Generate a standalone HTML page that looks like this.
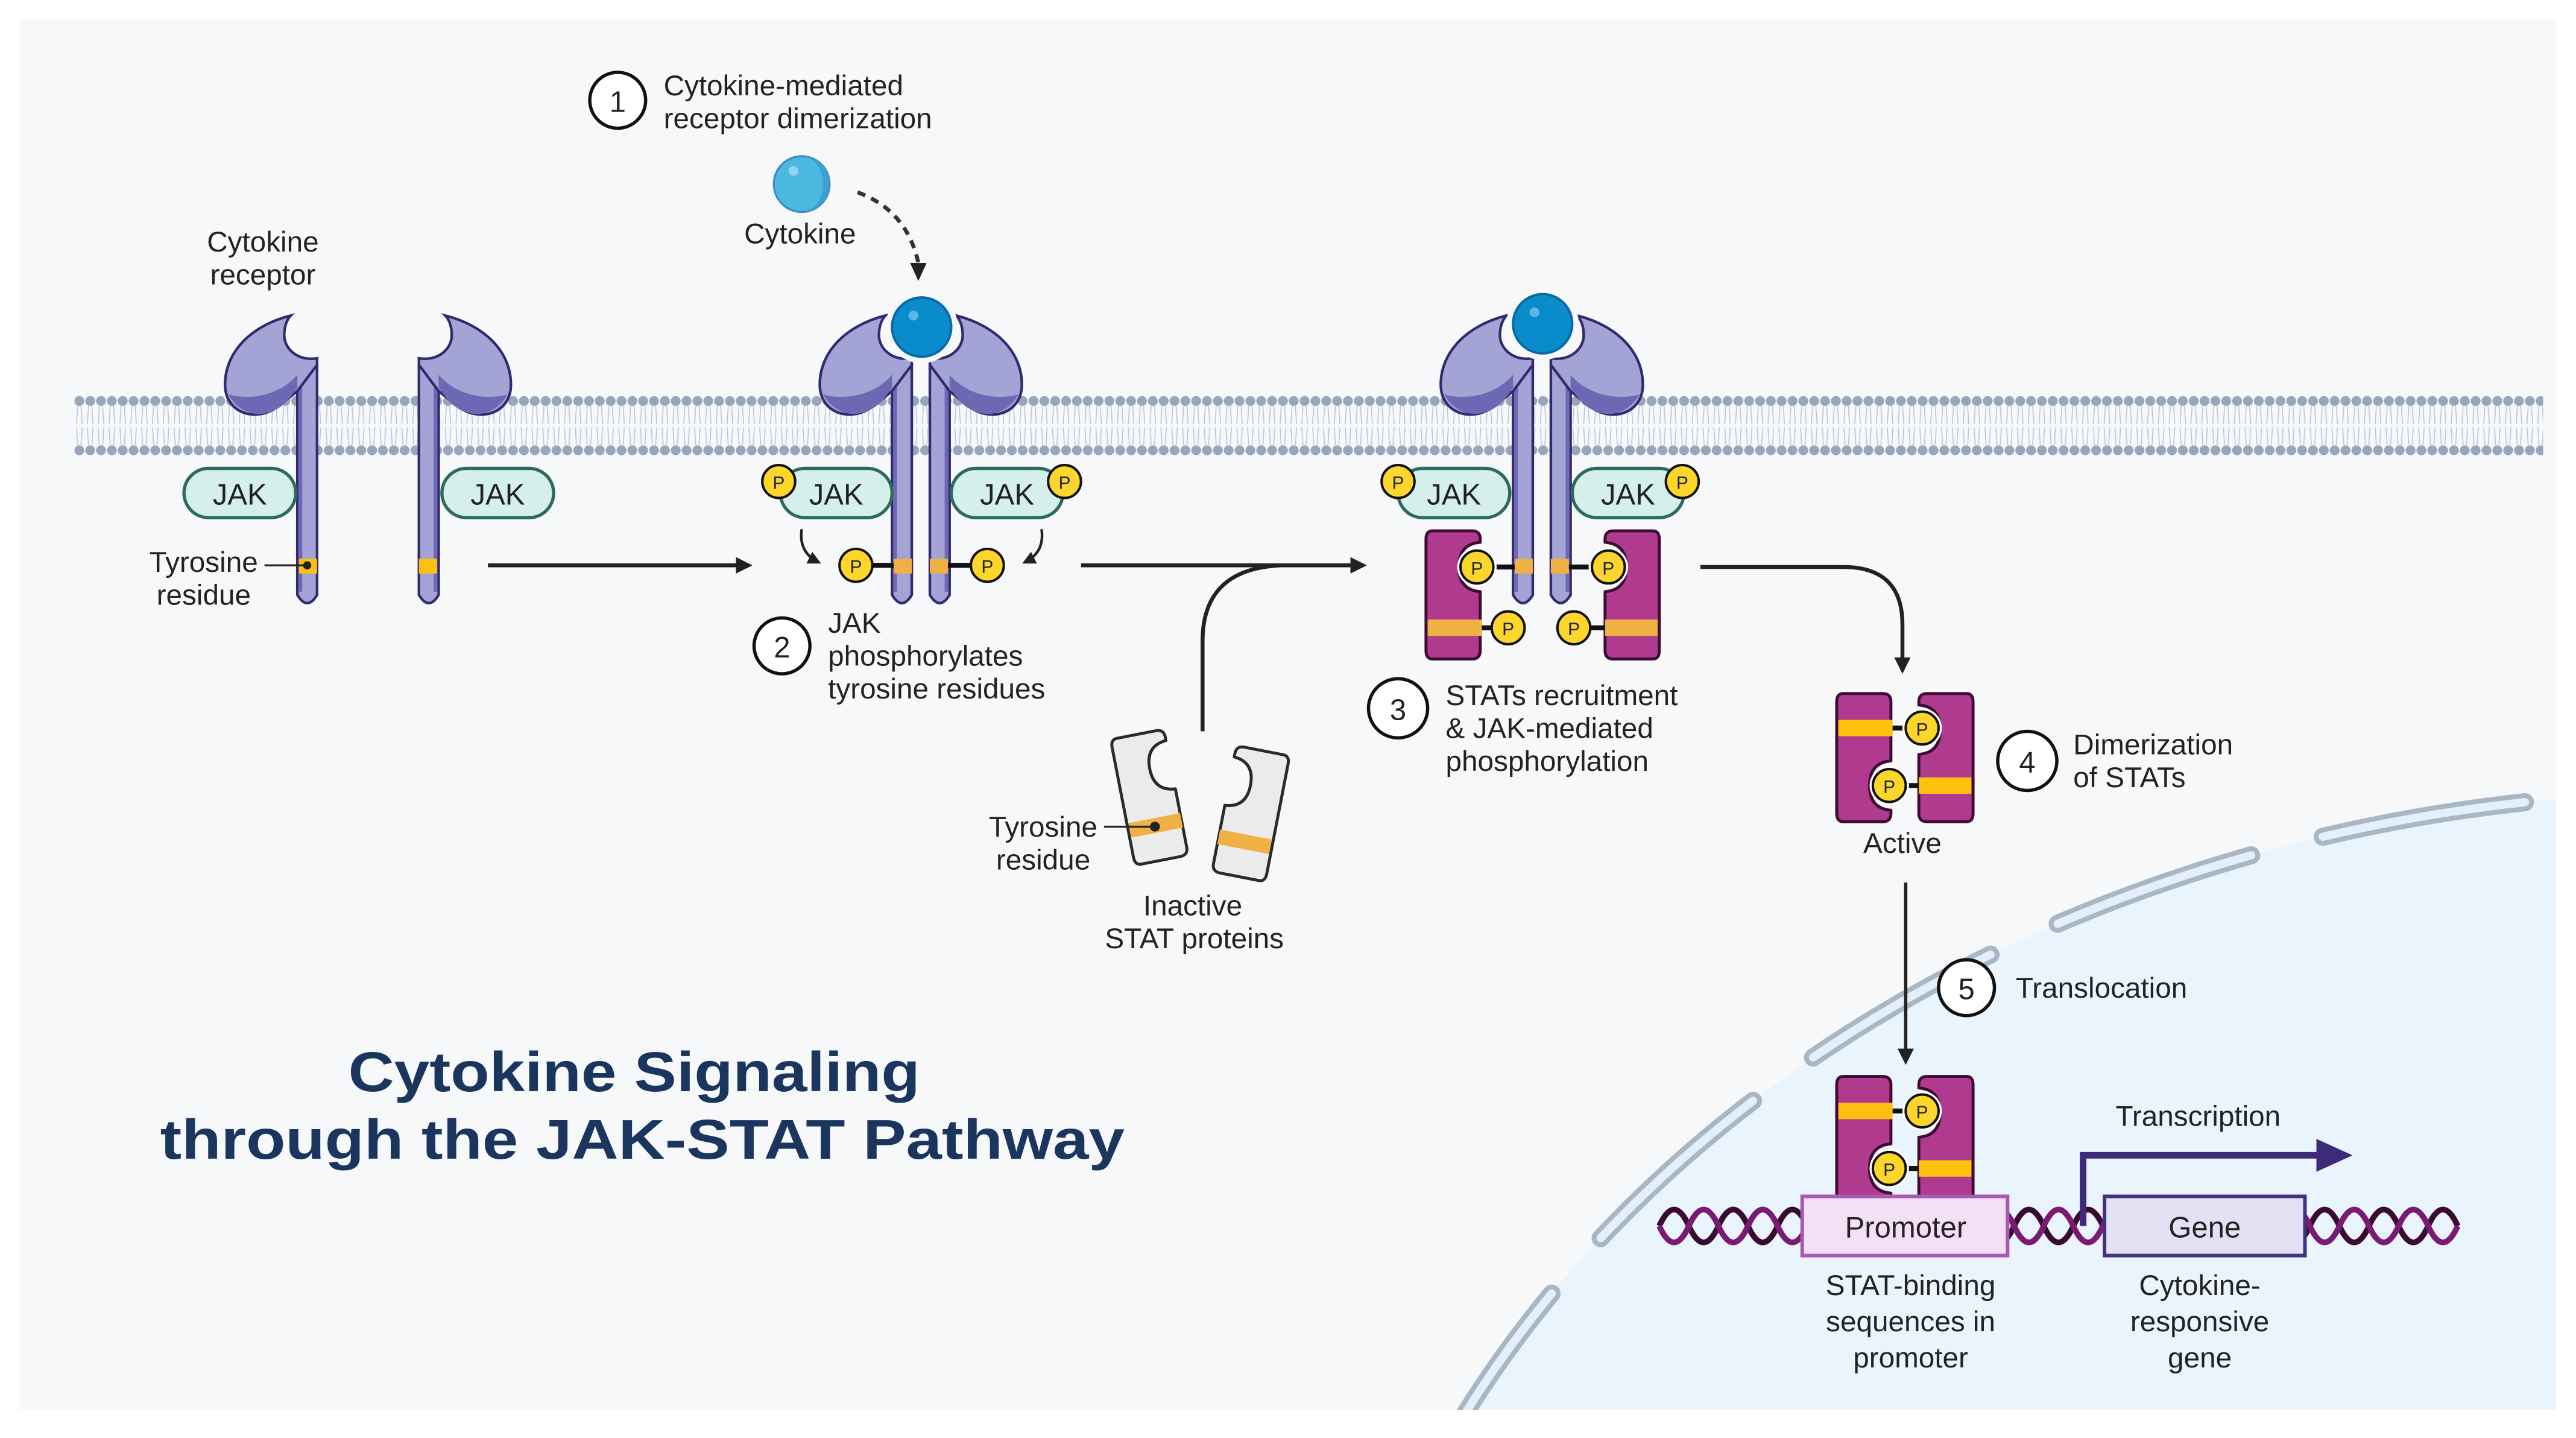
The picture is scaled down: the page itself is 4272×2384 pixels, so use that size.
<!DOCTYPE html>
<html><head><meta charset="utf-8"><style>
html,body{margin:0;padding:0;background:#fff;width:4272px;height:2384px;overflow:hidden;}
svg{display:block;}
text{font-family:"Liberation Sans",sans-serif;fill:#222;}
</style></head><body>
<svg width="4272" height="2384" viewBox="0 0 1568 875" xmlns="http://www.w3.org/2000/svg">
<defs>
<clipPath id="panel"><rect x="12" y="12" width="1544" height="846"/></clipPath>
<pattern id="lip" patternUnits="userSpaceOnUse" x="45" y="238" width="6.6" height="42">
<circle cx="3.3" cy="6" r="3" fill="#97a6ba"/>
<circle cx="3.3" cy="36" r="3" fill="#97a6ba"/>
<path d="M2.3 9 L1.6 20 M4.3 9 L5 20 M2.3 33 L1.6 22 M4.3 33 L5 22" stroke="#b9c6dd" stroke-width="0.6" fill="none"/>
</pattern>
<marker id="ah" markerWidth="10" markerHeight="10" refX="8" refY="5" orient="auto" markerUnits="userSpaceOnUse"><path d="M0 0 L10 5 L0 10 Z" fill="#222"/></marker>
<marker id="ahs" markerWidth="8" markerHeight="8" refX="6" refY="4" orient="auto" markerUnits="userSpaceOnUse"><path d="M0 0 L8 4 L0 8 Z" fill="#222"/></marker>
<g id="rec">
<path d="M-6 222 L-6 362 Q0 372 6 362 L6 222 Z" fill="#a3a3d6" stroke="#34296e" stroke-width="1.6"/>
<path d="M-4 228 L-4 360" stroke="#6d68b3" stroke-width="2"/>
<path d="M-10 192 C-34 198 -50 214 -50 234 C-50 252 -30 258 -16 246 L-6 238 L6 222 L6 218 C-6 220 -14 212 -14 204 C-14 198 -12 194 -10 192 Z" fill="#a3a3d6" stroke="#34296e" stroke-width="1.6"/>
<path d="M-48 240 C-40 254 -24 256 -12 244 L-6 236 L-6 228 C-16 240 -34 244 -48 240 Z" fill="#6d68b3"/>
</g>
<g id="stat">
<path d="M4 0 L28 0 Q33 0 33 5 L33 7 Q20 8 20 22 Q20 36 33 37 L33 73 Q33 78 28 78 L4 78 Q0 78 0 73 L0 5 Q0 0 4 0 Z" stroke-width="1.8" stroke-linejoin="round"/>
</g>
<g id="P"><circle r="10" fill="#fcd62a" stroke="#111" stroke-width="1.5"/><text y="4.5" text-anchor="middle" style="font-size:11px">P</text></g>
<g id="Pw"><circle r="12" fill="#fff"/><circle r="10" fill="#fcd62a" stroke="#111" stroke-width="1.5"/><text y="4.5" text-anchor="middle" style="font-size:11px">P</text></g>
<g id="jak"><rect x="-34" y="-15" width="68" height="30" rx="15" fill="#d5efea" stroke="#2d6b5d" stroke-width="2"/><text y="7" text-anchor="middle" style="font-size:18px">JAK</text></g>
</defs>

<rect width="1568" height="875" fill="#fff"/>
<rect x="12" y="12" width="1544" height="846" fill="#f7f8fa"/>
<g clip-path="url(#panel)">
<ellipse cx="1650" cy="1172" rx="850" ry="690" fill="#eaf4fd"/>
<ellipse cx="1650" cy="1172" rx="850" ry="690" fill="none" stroke="#a9b7c5" stroke-width="11" stroke-linecap="round" stroke-dasharray="125 45"/>
<ellipse cx="1650" cy="1172" rx="850" ry="690" fill="none" stroke="#e3effb" stroke-width="5" stroke-linecap="round" stroke-dasharray="125 45"/>
</g>

<rect x="45" y="238" width="1503" height="42" fill="url(#lip)"/>

<use href="#rec" transform="translate(187,0)"/>
<use href="#rec" transform="translate(261,0) scale(-1,1)"/>
<use href="#rec" transform="translate(549,0)"/>
<use href="#rec" transform="translate(572,0) scale(-1,1)"/>
<use href="#rec" transform="translate(927,0)"/>
<use href="#rec" transform="translate(950,0) scale(-1,1)"/>

<circle cx="561" cy="199" r="22" fill="#f7f8fa"/>
<circle cx="561" cy="199" r="18" fill="#0a8ccc" stroke="#0a6aa5" stroke-width="1.5"/>
<circle cx="556" cy="192" r="3" fill="#5ab6e4"/>
<circle cx="939" cy="197" r="22" fill="#f7f8fa"/>
<circle cx="939" cy="197" r="18" fill="#0a8ccc" stroke="#0a6aa5" stroke-width="1.5"/>
<circle cx="934" cy="190" r="3" fill="#5ab6e4"/>

<rect x="182" y="340" width="11" height="9" fill="#fcc10f"/>
<rect x="255" y="340" width="11" height="9" fill="#fcc10f"/>
<line x1="161" y1="344" x2="187" y2="344" stroke="#222" stroke-width="1.2"/><circle cx="187" cy="344" r="2.5" fill="#222"/>

<use href="#jak" transform="translate(146,300)"/>
<use href="#jak" transform="translate(303,300)"/>
<use href="#jak" transform="translate(509,300)"/>
<use href="#jak" transform="translate(613,300)"/>
<use href="#P" transform="translate(474,293)"/>
<use href="#P" transform="translate(648,293)"/>
<use href="#jak" transform="translate(885,300)"/>
<use href="#jak" transform="translate(991,300)"/>
<use href="#P" transform="translate(851,293)"/>
<use href="#P" transform="translate(1024,293)"/>

<rect x="544" y="340" width="11" height="9" fill="#efb143"/>
<rect x="566" y="340" width="11" height="9" fill="#efb143"/>
<line x1="521" y1="344" x2="544" y2="344" stroke="#111" stroke-width="3"/>
<line x1="577" y1="344" x2="601" y2="344" stroke="#111" stroke-width="3"/>
<use href="#P" transform="translate(521,344)"/>
<use href="#P" transform="translate(601,344)"/>
<path d="M488 322 Q486 336 498 342" fill="none" stroke="#222" stroke-width="1.6" marker-end="url(#ahs)"/>
<path d="M634 322 Q636 336 624 342" fill="none" stroke="#222" stroke-width="1.6" marker-end="url(#ahs)"/>

<use href="#stat" transform="translate(868,323)" fill="#b03a8e" stroke="#3d0b33"/>
<use href="#stat" transform="translate(1010,323) scale(-1,1)" fill="#b03a8e" stroke="#3d0b33"/>
<rect x="869" y="377" width="33" height="10" fill="#efb143"/>
<rect x="977" y="377" width="32" height="10" fill="#efb143"/>
<rect x="922" y="340" width="11" height="9" fill="#efb143"/>
<rect x="944" y="340" width="11" height="9" fill="#efb143"/>
<line x1="899" y1="345" x2="922" y2="345" stroke="#111" stroke-width="3"/>
<line x1="955" y1="345" x2="979" y2="345" stroke="#111" stroke-width="3"/>
<use href="#Pw" transform="translate(899,345)"/>
<use href="#Pw" transform="translate(979,345)"/>
<line x1="902" y1="382" x2="918" y2="382" stroke="#111" stroke-width="3"/>
<line x1="958" y1="382" x2="977" y2="382" stroke="#111" stroke-width="3"/>
<use href="#P" transform="translate(918,382)"/>
<use href="#P" transform="translate(958,382)"/>

<g id="dimer">
<use href="#stat" transform="translate(1118,500) scale(1,-1)" fill="#b03a8e" stroke="#3d0b33"/>
<use href="#stat" transform="translate(1201,422) scale(-1,1)" fill="#b03a8e" stroke="#3d0b33"/>
<rect x="1119" y="438" width="33" height="10" fill="#fcc10f"/>
<rect x="1168" y="473" width="32" height="10" fill="#fcc10f"/>
<line x1="1152" y1="443" x2="1170" y2="443" stroke="#111" stroke-width="3"/>
<line x1="1150" y1="478" x2="1168" y2="478" stroke="#111" stroke-width="3"/>
<use href="#Pw" transform="translate(1170,443)"/>
<use href="#Pw" transform="translate(1150,478)"/>
</g>
<use href="#dimer" transform="translate(0,233)"/>

<g transform="translate(676,450) rotate(-11)">
<use href="#stat" fill="#ebebeb" stroke="#2a2a2a"/>
<rect x="1" y="52" width="32" height="9" fill="#efb143"/>
</g>
<g transform="translate(785,460) rotate(11) scale(-1,1)">
<use href="#stat" fill="#ebebeb" stroke="#2a2a2a"/>
<rect x="1" y="52" width="32" height="9" fill="#efb143"/>
</g>
<line x1="672" y1="503" x2="702" y2="503" stroke="#222" stroke-width="1.2"/><circle cx="703" cy="503" r="3" fill="#222"/>

<circle cx="488" cy="112" r="17" fill="#4cb8e0" stroke="#3a8cc4" stroke-width="1.2"/>
<path d="M488 95 A17 17 0 0 1 488 129 A13 17 0 0 0 488 95 Z" fill="#3f9fcf"/>
<circle cx="483" cy="104" r="3" fill="#8fd3ef"/>
<path d="M522 117 Q552 128 559 160" fill="none" stroke="#333" stroke-width="2.4" stroke-dasharray="5 4"/>
<path d="M554 160 L564 160 L559 171 Z" fill="#222"/>

<line x1="297" y1="344" x2="456" y2="344" stroke="#222" stroke-width="2.4" marker-end="url(#ah)"/>
<line x1="658" y1="344" x2="830" y2="344" stroke="#222" stroke-width="2.4" marker-end="url(#ah)"/>
<path d="M732 445 L732 390 Q732 346 780 344" fill="none" stroke="#222" stroke-width="2.4"/>
<path d="M1035 345 L1122 345 Q1158 345 1158 380 L1158 408" fill="none" stroke="#222" stroke-width="2.4" marker-end="url(#ah)"/>
<line x1="1160" y1="537" x2="1160" y2="646" stroke="#222" stroke-width="2" marker-end="url(#ah)"/>

<path d="M1010 746 q9 -20 18 0 t18 0 t18 0 t18 0 t18 0 t18 0 t18 0 t18 0 t18 0 t18 0 t18 0 t18 0 t18 0 t18 0 t18 0 t18 0 t18 0 t18 0 t18 0 t18 0 t18 0 t18 0 t18 0 t18 0 t18 0 t18 0 t18 0" fill="none" stroke="#3a0a32" stroke-width="3.5"/>
<path d="M1010 746 q9 20 18 0 t18 0 t18 0 t18 0 t18 0 t18 0 t18 0 t18 0 t18 0 t18 0 t18 0 t18 0 t18 0 t18 0 t18 0 t18 0 t18 0 t18 0 t18 0 t18 0 t18 0 t18 0 t18 0 t18 0 t18 0 t18 0 t18 0" fill="none" stroke="#7a1a72" stroke-width="3.5"/>
<rect x="1097" y="728" width="125" height="36" fill="#f4dff7" stroke="#a85ab3" stroke-width="2.2"/>
<text x="1160" y="753" text-anchor="middle" style="font-size:18px">Promoter</text>
<rect x="1281" y="728" width="122" height="36" fill="#e4e1f5" stroke="#42327f" stroke-width="2.2"/>
<text x="1342" y="753" text-anchor="middle" style="font-size:18px">Gene</text>
<path d="M1268 746 L1268 703 L1415 703" fill="none" stroke="#3d2a78" stroke-width="4"/>
<path d="M1410 693 L1432 703 L1410 713 Z" fill="#3d2a78"/>

<g fill="#fff" stroke="#111" stroke-width="2">
<circle cx="376" cy="61" r="17"/><circle cx="476" cy="393" r="17"/><circle cx="851" cy="431" r="18"/><circle cx="1234" cy="463" r="18"/><circle cx="1197" cy="601" r="17"/>
</g>
<g style="font-size:18px" text-anchor="middle">
<text x="376" y="68">1</text><text x="476" y="400">2</text><text x="851" y="438">3</text><text x="1234" y="470">4</text><text x="1197" y="608">5</text>
</g>

<g style="font-size:17.5px">
<text x="404" y="58">Cytokine-mediated</text>
<text x="404" y="78">receptor dimerization</text>
<text x="487" y="148" text-anchor="middle">Cytokine</text>
<text x="160" y="153" text-anchor="middle">Cytokine</text>
<text x="160" y="173" text-anchor="middle">receptor</text>
<text x="157" y="348" text-anchor="end">Tyrosine</text>
<text x="124" y="368" text-anchor="middle">residue</text>
<text x="504" y="385">JAK</text>
<text x="504" y="405">phosphorylates</text>
<text x="504" y="425">tyrosine residues</text>
<text x="668" y="509" text-anchor="end">Tyrosine</text>
<text x="635" y="529" text-anchor="middle">residue</text>
<text x="726" y="557" text-anchor="middle">Inactive</text>
<text x="727" y="577" text-anchor="middle">STAT proteins</text>
<text x="880" y="429">STATs recruitment</text>
<text x="880" y="449">&amp; JAK-mediated</text>
<text x="880" y="469">phosphorylation</text>
<text x="1158" y="519" text-anchor="middle">Active</text>
<text x="1262" y="459">Dimerization</text>
<text x="1262" y="479">of STATs</text>
<text x="1227" y="607">Translocation</text>
<text x="1338" y="685" text-anchor="middle">Transcription</text>
<text x="1163" y="788" text-anchor="middle">STAT-binding</text>
<text x="1163" y="810" text-anchor="middle">sequences in</text>
<text x="1163" y="832" text-anchor="middle">promoter</text>
<text x="1339" y="788" text-anchor="middle">Cytokine-</text>
<text x="1339" y="810" text-anchor="middle">responsive</text>
<text x="1339" y="832" text-anchor="middle">gene</text>
</g>

<text x="386" y="664" text-anchor="middle" textLength="348" lengthAdjust="spacingAndGlyphs" style="font-size:34px;font-weight:bold;fill:#1a355e">Cytokine Signaling</text>
<text x="391" y="705" text-anchor="middle" textLength="587" lengthAdjust="spacingAndGlyphs" style="font-size:34px;font-weight:bold;fill:#1a355e">through the JAK-STAT Pathway</text>
</svg>
</body></html>
